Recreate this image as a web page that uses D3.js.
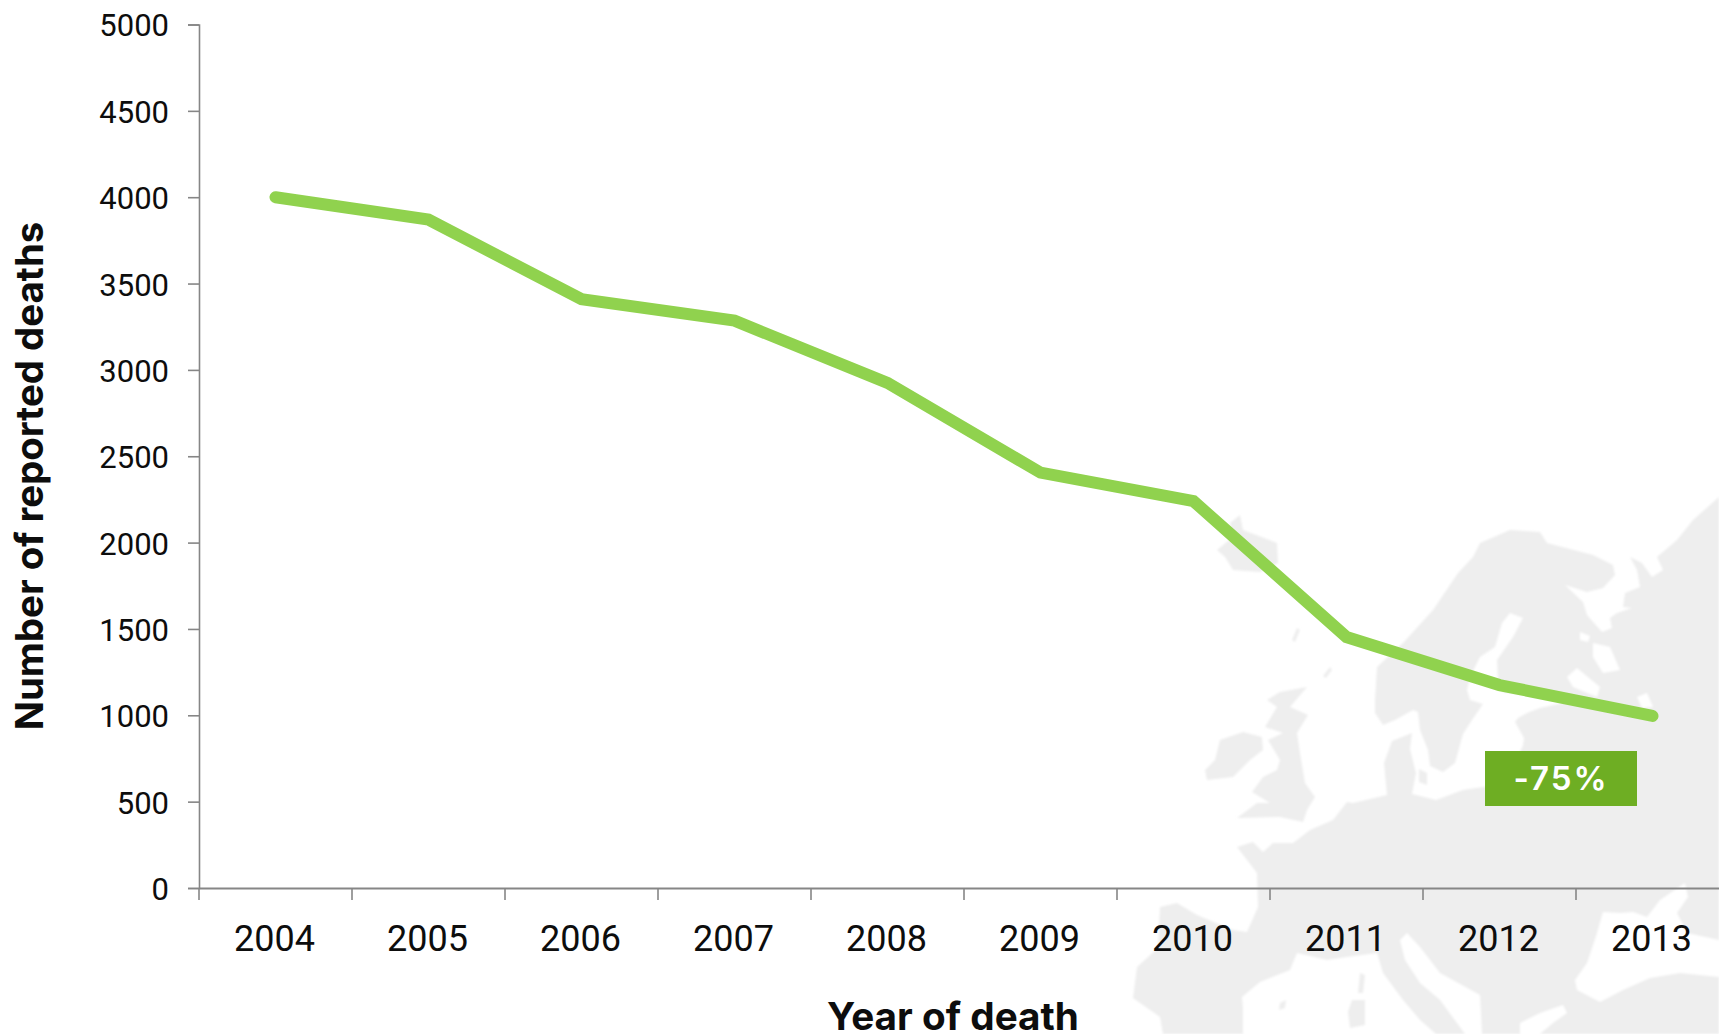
<!DOCTYPE html>
<html><head><meta charset="utf-8">
<script src="https://cdn.jsdelivr.net/npm/d3@7/dist/d3.min.js"></script>
<style>html,body{margin:0;padding:0;background:#fff;overflow:hidden}svg{display:block}</style>
</head><body><svg id="c" width="1719" height="1034"></svg>
<script>
const years=["2004","2005","2006","2007","2008","2009","2010","2011","2012","2013"];
const deaths=[4000,3870,3410,3285,2925,2405,2240,1453,1175,996];
const yTicks=[0,500,1000,1500,2000,2500,3000,3500,4000,4500,5000];
const xTitle="Year of death", yTitle="Number of reported deaths", badge="-75%";

// Decorative backdrop: silhouette of Europe, traced in page pixels
const mainland=[[1412,733],[1410,749],[1416,773],[1412,794],[1436,800],[1463,790],[1490,786],[1510,775],[1523,745],[1524,738],[1515,722],[1518,718],[1527,713],[1540,708],[1563,703],[1560,698],[1527,695],[1503,692],[1498,680],[1497,660],[1513,637],[1523,618],[1510,613],[1502,623],[1495,647],[1480,657],[1470,677],[1467,690],[1470,700],[1483,704],[1472,720],[1463,734],[1455,763],[1443,772],[1430,766],[1428,750],[1420,730],[1418,712],[1413,710],[1395,720],[1383,725],[1375,713],[1375,700],[1377,667],[1403,643],[1433,610],[1458,573],[1473,557],[1480,543],[1510,530],[1540,532],[1547,543],[1593,555],[1613,565],[1615,575],[1603,588],[1587,592],[1565,585],[1583,602],[1587,615],[1602,632],[1612,628],[1610,618],[1617,613],[1632,608],[1623,607],[1625,593],[1640,587],[1637,570],[1630,557],[1642,563],[1652,577],[1663,570],[1657,557],[1677,540],[1693,520],[1719,497],[1719,1034],[1163,1034],[1160,1017],[1133,998],[1137,967],[1158,948],[1160,907],[1177,903],[1197,915],[1233,930],[1247,932],[1258,907],[1257,873],[1237,847],[1253,842],[1263,852],[1273,843],[1293,843],[1310,830],[1333,820],[1347,802],[1353,803],[1387,795],[1384,763],[1392,741]];
const islands=[
 [[1240,515],[1243,530],[1277,543],[1278,563],[1260,572],[1233,570],[1225,557],[1217,550],[1233,537],[1230,523]],
 [[1280,692],[1307,687],[1290,707],[1308,715],[1297,733],[1300,753],[1305,783],[1315,797],[1307,810],[1303,822],[1280,817],[1237,818],[1257,803],[1270,803],[1252,792],[1263,777],[1277,770],[1280,760],[1268,740],[1283,733],[1265,727],[1277,707],[1267,700]],
 [[1220,740],[1243,732],[1262,737],[1263,750],[1250,760],[1233,777],[1207,780],[1205,770],[1215,760]],
 [[1297,628],[1300,630],[1295,642],[1292,640]],
 [[1330,667],[1332,670],[1326,678],[1323,676]],
 [[1419,769],[1427,773],[1427,785],[1419,782]]
];
const seas=[
 [[1243,1034],[1243,1008],[1242,997],[1260,982],[1290,970],[1297,953],[1327,960],[1347,957],[1377,953],[1383,973],[1403,1000],[1420,1020],[1436,1034]],
 [[1400,940],[1407,933],[1420,947],[1440,973],[1480,995],[1482,1034],[1465,1034],[1440,1000],[1420,983],[1405,960]],
 [[1603,912],[1620,913],[1633,912],[1647,917],[1660,900],[1685,883],[1688,897],[1677,913],[1687,933],[1719,940],[1719,977],[1680,973],[1650,978],[1623,990],[1600,1002],[1577,990],[1575,980],[1587,963],[1597,933]],
 [[1520,1023],[1540,1013],[1563,1005],[1567,1013],[1553,1023],[1540,1034],[1520,1034]],
 [[1593,643],[1610,647],[1620,670],[1603,673],[1593,657]],
 [[1577,668],[1600,687],[1597,697],[1573,687],[1567,677]],
 [[1637,697],[1647,693],[1653,707],[1642,708]],
 [[1580,632],[1590,636],[1588,642],[1580,640]]
];
const medIslands=[
 [[1360,973],[1365,975],[1363,993],[1358,993]],
 [[1352,1000],[1365,1000],[1365,1025],[1350,1028],[1348,1012]],
 [[1280,1003],[1286,1000],[1285,1008],[1279,1010]]
];

const svg=d3.select("#c");
const x=d3.scaleBand().domain(years).range([199,1729]);
const y=d3.scaleLinear().domain([0,5000]).range([888,24.5]);
const outline=d3.line().curve(d3.curveLinearClosed);

const defs=svg.append("defs");
defs.append("filter").attr("id","soft").append("feGaussianBlur").attr("stdDeviation",1.3);
const map=svg.append("g").attr("filter","url(#soft)");
map.append("path").attr("d",outline(mainland)).attr("fill","#eeeeee");
map.selectAll(".i").data(islands).join("path").attr("d",outline).attr("fill","#eeeeee");
map.selectAll(".s").data(seas).join("path").attr("d",outline).attr("fill","#ffffff");
map.selectAll(".m").data(medIslands).join("path").attr("d",outline).attr("fill","#eeeeee");

const axisColor="#868686", font="Roboto, sans-serif", titleFont="Inter, sans-serif";
const gy=svg.append("g").attr("transform","translate(199,0)")
  .call(d3.axisLeft(y).tickValues(yTicks).tickSize(11).tickPadding(19).tickFormat(d3.format("d")));
gy.selectAll("text").attr("font-family",font).attr("font-size",31).attr("fill","#0d0d0d").attr("dy","0.37em");
gy.selectAll("line,path").attr("stroke",axisColor).attr("stroke-width",1.6);

const gx=svg.append("g").attr("transform","translate(-1,888)")
  .call(d3.axisBottom(x).tickSize(0).tickPadding(37));
gx.selectAll("text").attr("font-family",font).attr("font-size",36).attr("fill","#0d0d0d");
gx.select("path").attr("stroke",axisColor).attr("stroke-width",1.8).attr("transform","translate(1,0)");
svg.append("g").attr("transform","translate(0,888)").selectAll("line").data(years).join("line")
  .attr("x1",d=>x(d)).attr("x2",d=>x(d)).attr("y1",0).attr("y2",12)
  .attr("stroke",axisColor).attr("stroke-width",1.6);

svg.append("path").datum(deaths)
  .attr("d",d3.line().x((d,i)=>x(years[i])+x.bandwidth()/2).y(d=>y(d)))
  .attr("fill","none").attr("stroke","#90d24e").attr("stroke-width",12)
  .attr("stroke-linecap","round").attr("stroke-linejoin","miter");

svg.append("rect").attr("x",1485).attr("y",751).attr("width",152).attr("height",55).attr("fill","#6eae23");
svg.append("text").attr("x",1561).attr("y",790).attr("text-anchor","middle")
  .attr("font-family",titleFont).attr("font-size",33).attr("font-weight",600)
  .attr("letter-spacing",2).attr("fill","#fff").text(badge);

svg.append("text").attr("x",953).attr("y",1030).attr("text-anchor","middle")
  .attr("font-family",titleFont).attr("font-weight",700).attr("font-size",38.7).attr("fill","#0d0d0d").text(xTitle);
svg.append("text").attr("transform","translate(43,476) rotate(-90)").attr("text-anchor","middle")
  .attr("font-family",titleFont).attr("font-weight",700).attr("font-size",38.4).attr("fill","#0d0d0d").text(yTitle);
</script></body></html>
